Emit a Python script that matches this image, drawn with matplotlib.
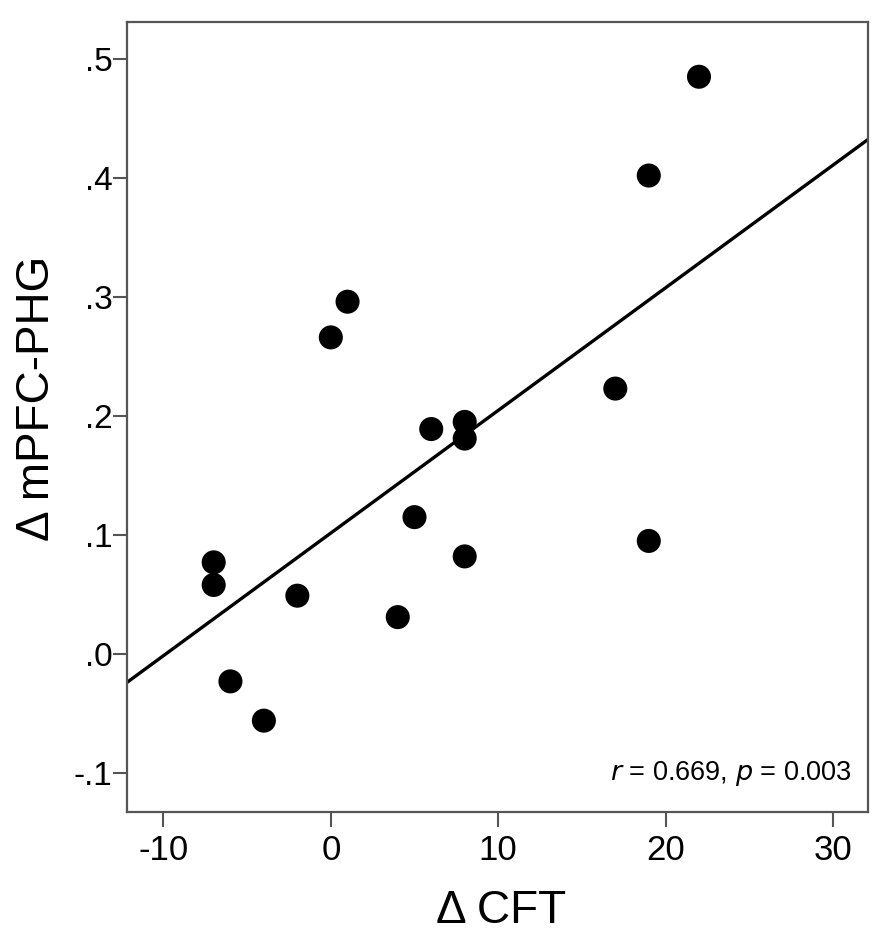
import matplotlib
matplotlib.use("Agg")
import matplotlib.pyplot as plt
import numpy as np
from matplotlib.ticker import FuncFormatter

plt.rcParams['font.family'] = ['Liberation Sans', 'DejaVu Sans']
plt.rcParams['axes.unicode_minus'] = False

# Data
cft = [22, 19, 1, 0, 17, 6, 8, 8, 5, -7, -7, -2, 8, 19, 4, -6, -4]
mpfc_phg = [0.485, 0.402, 0.296, 0.266, 0.223, 0.189, 0.195, 0.181, 0.115,
            0.077, 0.058, 0.049, 0.082, 0.095, 0.031, -0.023, -0.056]
xticks = [-10, 0, 10, 20, 30]
yticks = [-0.1, 0.0, 0.1, 0.2, 0.3, 0.4, 0.5]
annotation = "$r$ = 0.669, $p$ = 0.003"

W, H = 892, 947
fig = plt.figure(figsize=(W / 100, H / 100), dpi=100)
ax = fig.add_axes([127 / W, 1 - 811.7 / H, (868 - 127) / W, (811.7 - 22) / H])

xlim = (-12.18, 32.1)
ylim = (-0.1325, 0.531)

ax.scatter(cft, mpfc_phg, s=300, color='black', edgecolors='none', zorder=3)

slope, intercept = np.polyfit(cft, mpfc_phg, 1)
xs = np.array(xlim)
ax.plot(xs, slope * xs + intercept, color='black', lw=2.4, zorder=2)

ax.set_xlim(*xlim)
ax.set_ylim(*ylim)
ax.set_xticks(xticks)
ax.set_yticks(yticks)

def yfmt(v, pos):
    s = f"{v:.1f}"
    if s.startswith("-0"):
        return "-" + s[2:]
    if s.startswith("0"):
        return s[1:]
    return s

ax.yaxis.set_major_formatter(FuncFormatter(yfmt))

for sp in ax.spines.values():
    sp.set_color('#555555')
    sp.set_linewidth(1.6)

ax.tick_params(axis='y', length=10, width=1.5, color='#555555', labelsize=24, pad=0.5)
ax.tick_params(axis='x', length=11, width=1.5, color='#555555', labelsize=25, pad=5)

ax.set_xlabel("Δ CFT", fontsize=33)
ax.xaxis.label.set_va('baseline')
ax.xaxis.set_label_coords((501.5 - 127) / 741, (811.7 - 923) / 789.7)

ax.set_ylabel("Δ mPFC-PHG", fontsize=33)
ax.yaxis.label.set_va('center')
ax.yaxis.set_label_coords((37.5 - 127) / 741, (811.7 - 398) / 789.7)

ax.text(0.978, 0.040, annotation, transform=ax.transAxes, ha='right', va='baseline',
        fontsize=19.5)

fig.savefig("out.png", dpi=100)
